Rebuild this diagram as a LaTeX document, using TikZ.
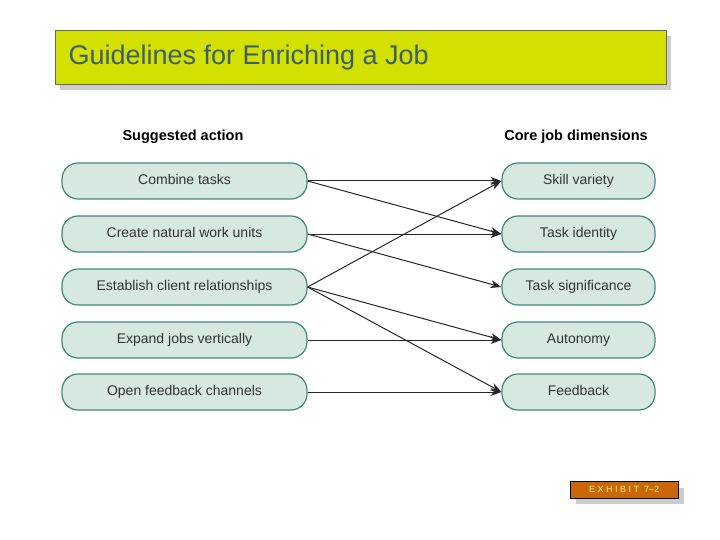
\documentclass[tikz,border=0pt]{standalone}
\usepackage{fontspec}
\setmainfont{Liberation Sans}
\usetikzlibrary{arrows.meta}
\definecolor{titlebg}{HTML}{D4E000}
\definecolor{titletx}{HTML}{3A5F6B}
\definecolor{boxfill}{HTML}{D6E8E0}
\definecolor{boxline}{HTML}{3E8A7A}
\definecolor{exfill}{HTML}{C8680A}
\begin{document}
\begin{tikzpicture}[x=1pt,y=-1pt,
  pill/.style={draw=boxline,fill=boxfill,line width=1.2pt,rounded corners=16pt,minimum height=36pt,text height=10pt,text depth=3pt,font=\fontsize{14}{16}\selectfont\color{black!80}},
  conn/.style={-{Stealth[length=11pt,width=8pt]},line width=1pt,black!85}]
\useasboundingbox (0,0) rectangle (720,540);
\fill[black!20] (60,36) rectangle (671,90);
\node[draw=black!60,fill=titlebg,minimum width=611pt,minimum height=54pt,anchor=north west,inner sep=0] (title) at (55,30) {};
\node[anchor=west,text=titletx,font=\fontsize{27}{30}\selectfont] (tt) at (65,58) {Guidelines for Enriching a Job};
\node[font=\bfseries\fontsize{14.5}{16}\selectfont] (h1) at (183,137) {Suggested action};
\node[font=\bfseries\fontsize{14.5}{16}\selectfont] (h2) at (576,137) {Core job dimensions};
\foreach \i/\t/\y in {1/Combine tasks/181,2/Create natural work units/234,3/Establish client relationships/287,4/Expand jobs vertically/340,5/Open feedback channels/392}
  \node[pill,minimum width=245pt] (L\i) at (184.5,\y) {\t};
\foreach \i/\t/\y in {1/Skill variety/181,2/Task identity/234,3/Task significance/287,4/Autonomy/340,5/Feedback/392}
  \node[pill,minimum width=153pt] (R\i) at (578.5,\y) {\t};
\foreach \a/\b in {1/1,1/2,2/2,2/3,3/1,3/4,3/5,4/4,5/5}
  \draw[conn] (L\a.east) -- (R\b.west);
\fill[black!20] (576,488) rectangle (684,504);
\node[draw=black,fill=exfill,minimum width=108pt,minimum height=17pt,anchor=north west,inner sep=0,text=yellow!60,font=\fontsize{9}{10}\selectfont] (ex) at (570,481) {E X H I B I T\ \ 7–2};
\end{tikzpicture}
\end{document}
